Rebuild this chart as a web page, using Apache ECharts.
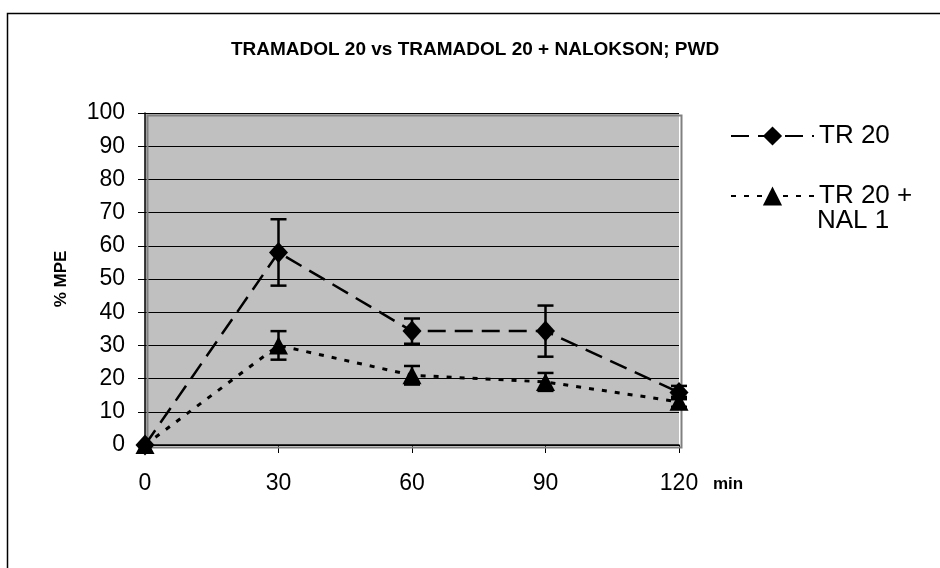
<!DOCTYPE html>
<html>
<head>
<meta charset="utf-8">
<script src="https://cdn.jsdelivr.net/npm/echarts@6/dist/echarts.min.js"></script>
<style>html,body{margin:0;padding:0;background:#fff}#c{width:940px;height:568px}</style>
</head>
<body>
<div id="c"></div>
<script>
var minutes = [0, 30, 60, 90, 120];
var tr20 = [0, 58, 34.3, 34.3, 15.8];
var tr20Err = [0, 10, 3.8, 7.7, 2];
var trNal = [0, 30, 21, 19, 13];
var trNalErr = [0, 4.3, 2.8, 2.7, 1.5];
var seriesNames = ['TR 20', 'TR 20 +'];
var yTicks = [0, 10, 20, 30, 40, 50, 60, 70, 80, 90, 100];

function pairs(xs, ys) { return xs.map(function (x, i) { return [x, ys[i]]; }); }
function errData(xs, ys, es) { return xs.map(function (x, i) { return [x, ys[i] - es[i], ys[i] + es[i]]; }); }

function errRender(params, api) {
  var lo = api.coord([api.value(0), api.value(1)]);
  var hi = api.coord([api.value(0), api.value(2)]);
  if (api.value(2) - api.value(1) <= 0) return null;
  var w = 8;
  var st = { stroke: '#000', lineWidth: 2.5 };
  return {
    type: 'group',
    children: [
      { type: 'line', shape: { x1: lo[0], y1: lo[1], x2: hi[0], y2: hi[1] }, style: st },
      { type: 'line', shape: { x1: lo[0] - w, y1: lo[1], x2: lo[0] + w, y2: lo[1] }, style: st },
      { type: 'line', shape: { x1: hi[0] - w, y1: hi[1], x2: hi[0] + w, y2: hi[1] }, style: st }
    ]
  };
}

var chart = echarts.init(document.getElementById('c'), null, { renderer: 'canvas' });
var font = 'Liberation Sans, Arial, sans-serif';
chart.setOption({
  animation: false,
  textStyle: { fontFamily: font },
  title: {
    text: 'TRAMADOL 20 vs TRAMADOL 20 + NALOKSON; PWD',
    left: 470, top: 35, textAlign: 'center',
    textStyle: { fontSize: 19, fontWeight: 'bold', color: '#000', fontFamily: font }
  },
  graphic: [
    { type: 'rect', left: 5, top: 11, shape: { width: 1000, height: 620 }, style: { fill: 'none', stroke: '#000', lineWidth: 1.5 }, z: -10 },
    { type: 'rect', left: 145, top: 113, shape: { width: 534, height: 332 }, style: { fill: 'none', stroke: '#808080', lineWidth: 2 }, z: 1 },
    { type: 'text', left: 817, top: 208, style: { text: 'NAL 1', fill: '#000', font: '26px ' + font } }
  ],
  legend: [
    { data: [seriesNames[0]], left: 725, top: 118, itemWidth: 83, itemHeight: 24, itemGap: 9,
      textStyle: { fontSize: 26, color: '#000', fontFamily: font } },
    { data: [seriesNames[1]], left: 725, top: 178, itemWidth: 83, itemHeight: 24, itemGap: 9,
      textStyle: { fontSize: 26, color: '#000', fontFamily: font } }
  ],
  grid: { left: 145, top: 113, width: 534, height: 332, show: true, backgroundColor: '#c0c0c0', borderWidth: 0 },
  xAxis: {
    type: 'value', min: 0, max: 120, interval: 30,
    name: 'min', nameLocation: 'end', nameGap: 0,
    nameTextStyle: { fontSize: 17, fontWeight: 'bold', color: '#000', align: 'left', verticalAlign: 'top', padding: [31, 0, 0, 34] },
    axisLine: { lineStyle: { color: '#000', width: 1.5 } },
    axisTick: { show: true, length: 8, lineStyle: { color: '#000', width: 1 } },
    axisLabel: { fontSize: 23, color: '#000', margin: 27, fontFamily: font },
    splitLine: { show: false }
  },
  yAxis: {
    type: 'value', min: 0, max: 100, interval: 10,
    name: '% MPE', nameLocation: 'middle', nameGap: 75, nameRotate: 90,
    nameTextStyle: { fontSize: 17, fontWeight: 'bold', color: '#000' },
    axisLine: { show: true, lineStyle: { color: '#000', width: 1.5 } },
    axisTick: { show: true, length: 7, lineStyle: { color: '#000', width: 1 } },
    axisLabel: { fontSize: 23, color: '#000', margin: 20, fontFamily: font,
      formatter: function (v) { return yTicks.indexOf(v) >= 0 ? String(v) : ''; } },
    splitLine: { show: true, lineStyle: { color: '#000', width: 1 } }
  },
  series: [
    { name: seriesNames[0], type: 'line', data: pairs(minutes, tr20), symbol: 'diamond', symbolSize: [19, 21],
      lineStyle: { color: '#000', width: 2.5, type: [18, 9] }, itemStyle: { color: '#000' }, z: 3 },
    { name: seriesNames[1], type: 'line', data: pairs(minutes, trNal), symbol: 'triangle', symbolSize: [19, 18],
      lineStyle: { color: '#000', width: 3, type: [5, 8] }, itemStyle: { color: '#000' }, z: 4 },
    { type: 'custom', renderItem: errRender, data: errData(minutes, tr20, tr20Err), z: 2, silent: true },
    { type: 'custom', renderItem: errRender, data: errData(minutes, trNal, trNalErr), z: 2, silent: true }
  ]
});
</script>
</body>
</html>
